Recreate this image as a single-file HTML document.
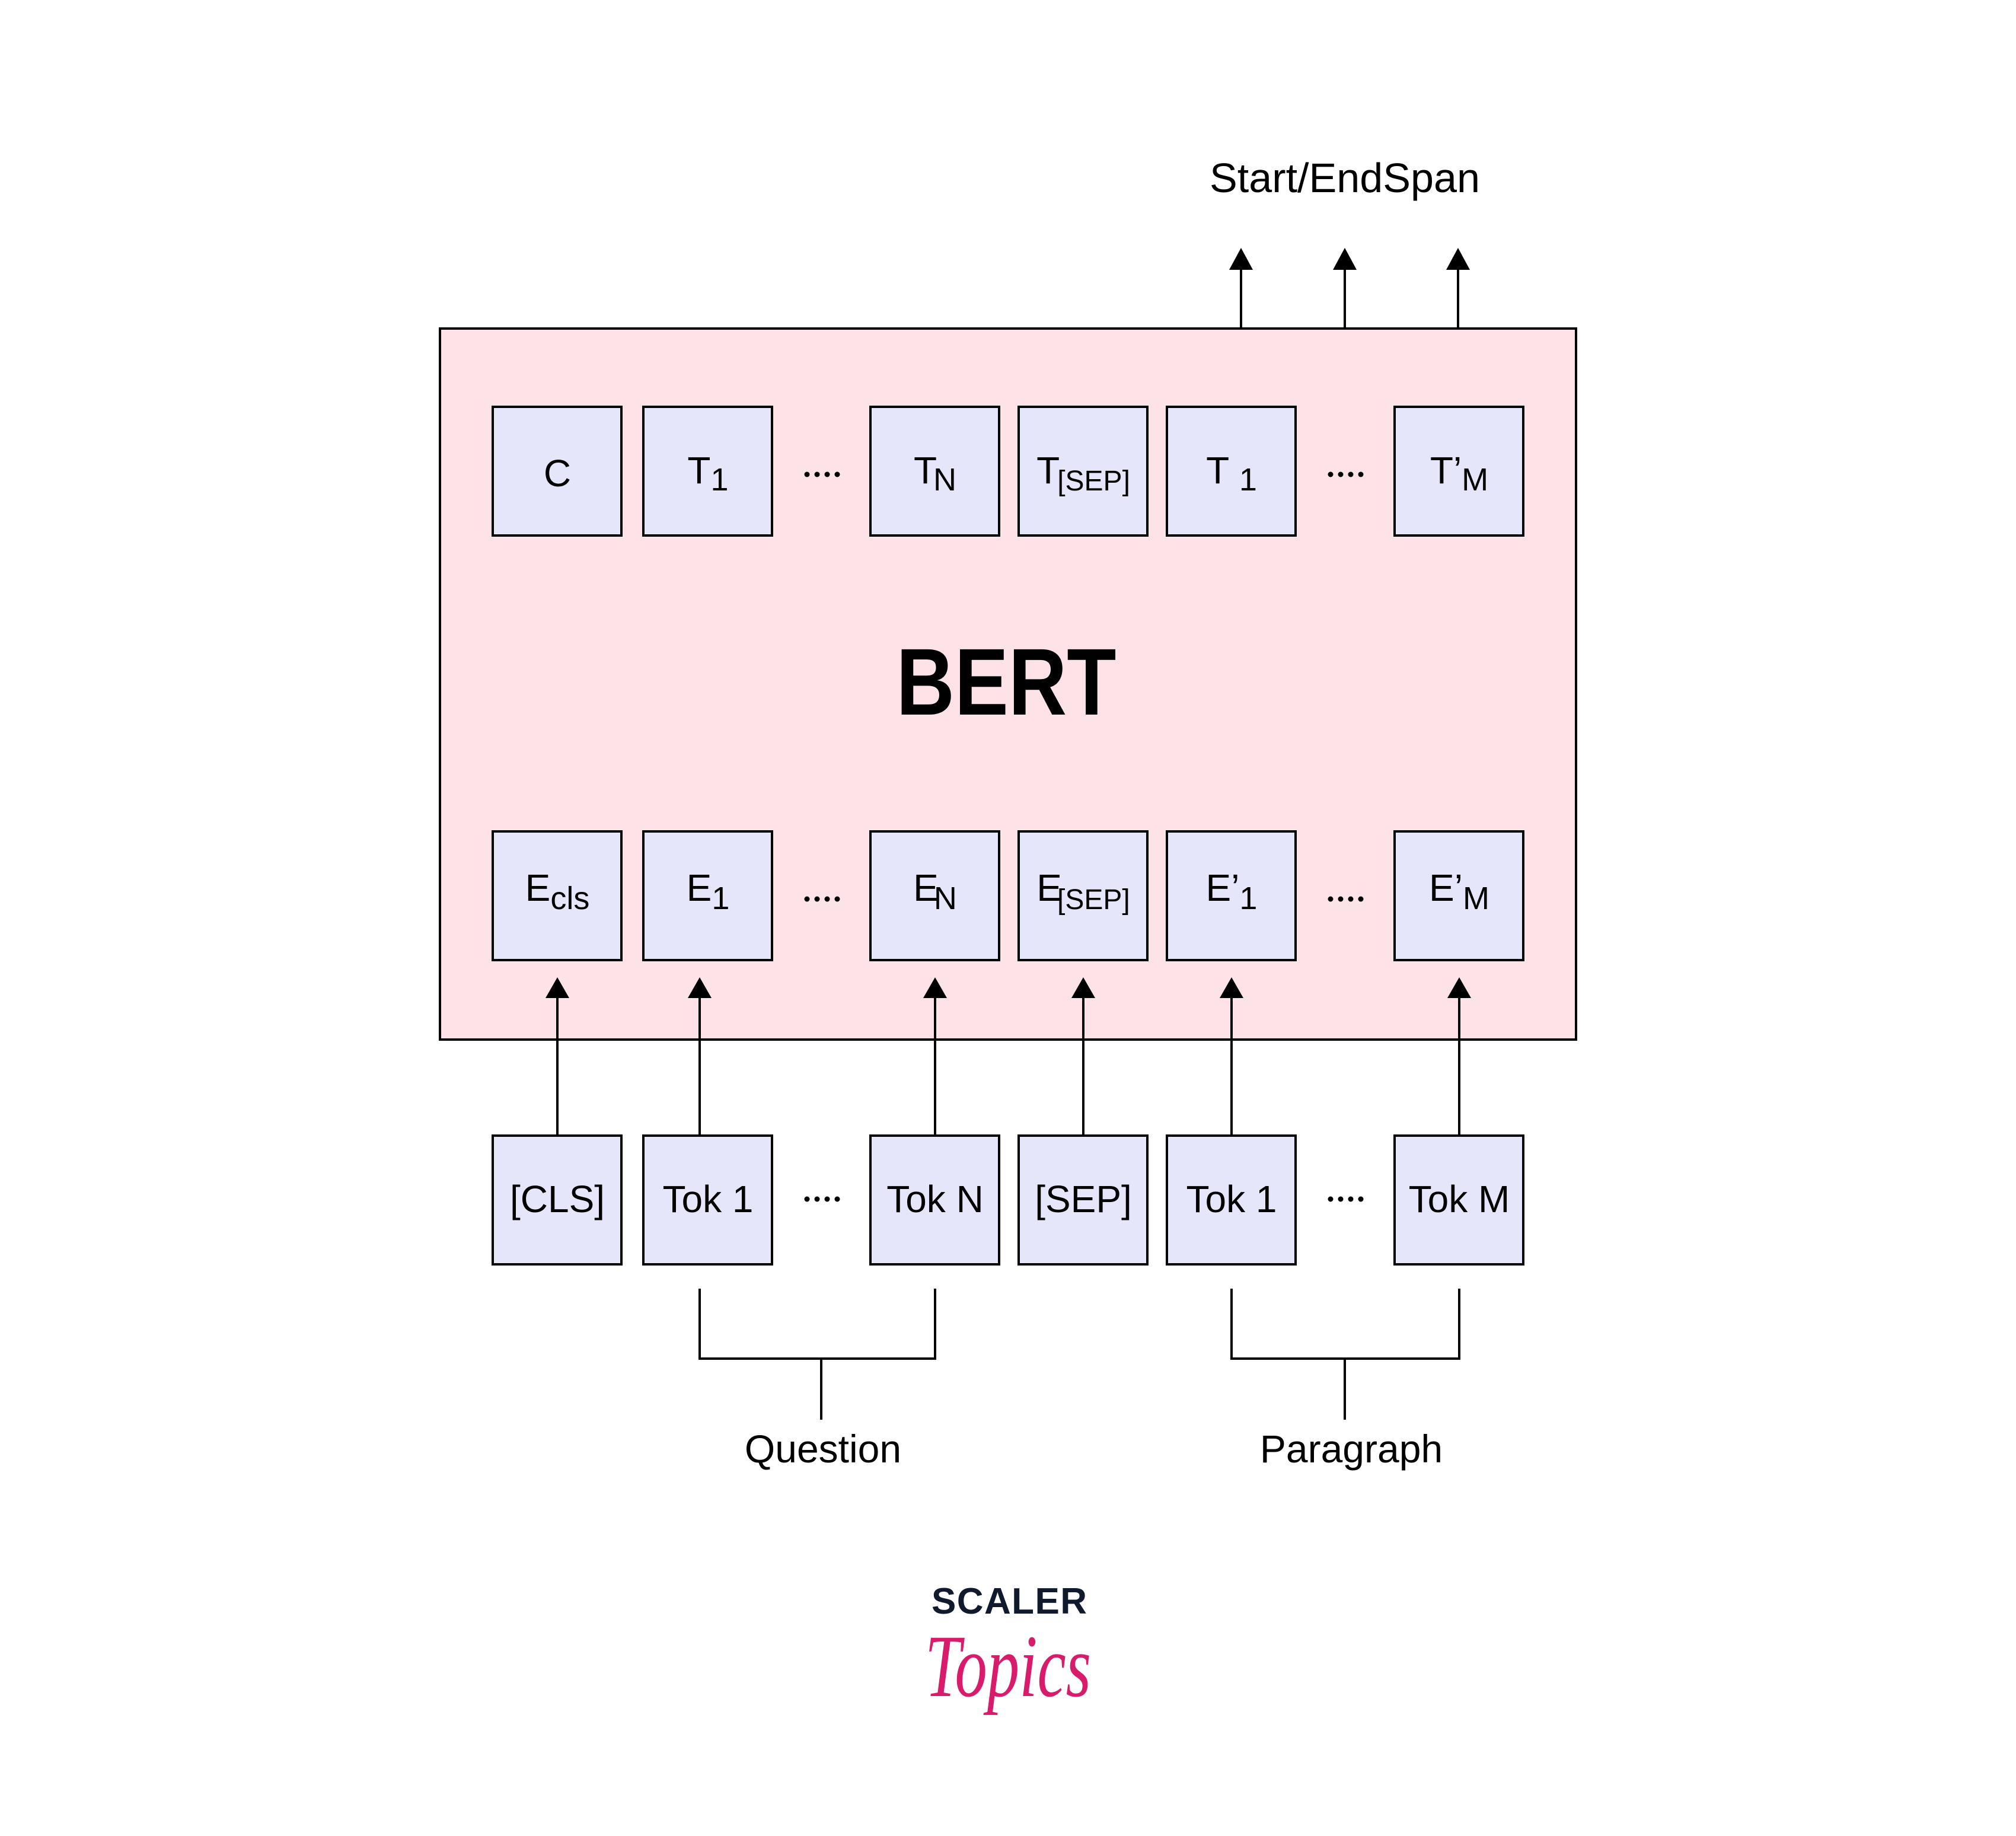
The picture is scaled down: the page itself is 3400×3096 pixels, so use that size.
<!DOCTYPE html>
<html><head><meta charset="utf-8"><style>html,body{margin:0;padding:0;background:#fff}svg{display:block}</style></head>
<body>
<svg width="3400" height="3096" viewBox="0 0 3400 3096" xmlns="http://www.w3.org/2000/svg" font-family="'Liberation Sans', sans-serif" fill="#000">
<rect width="3400" height="3096" fill="#fff"/>
<!-- top outputs -->
<text x="2268" y="324" font-size="70" text-anchor="middle" textLength="456" lengthAdjust="spacingAndGlyphs">Start/EndSpan</text>
<g stroke="#000" stroke-width="4">
<line x1="2093" y1="450" x2="2093" y2="554"/>
<line x1="2268" y1="450" x2="2268" y2="554"/>
<line x1="2459" y1="450" x2="2459" y2="554"/>
</g>
<polygon points="2093,418 2073,455 2113,455"/>
<polygon points="2268,418 2248,455 2288,455"/>
<polygon points="2459,418 2439,455 2479,455"/>
<!-- BERT box -->
<rect x="742" y="554" width="1916" height="1199" fill="#fde3e8" stroke="#000" stroke-width="4"/>
<text x="1697" y="1205" font-size="160" font-weight="bold" text-anchor="middle" textLength="371" lengthAdjust="spacingAndGlyphs">BERT</text>
<g fill="#e6e6fa" stroke="#000" stroke-width="4">
<rect x="831" y="686" width="217" height="217"/><rect x="1085" y="686" width="217" height="217"/><rect x="1468" y="686" width="217" height="217"/><rect x="1718" y="686" width="217" height="217"/><rect x="1968" y="686" width="217" height="217"/><rect x="2352" y="686" width="217" height="217"/>
<rect x="831" y="1402" width="217" height="217"/><rect x="1085" y="1402" width="217" height="217"/><rect x="1468" y="1402" width="217" height="217"/><rect x="1718" y="1402" width="217" height="217"/><rect x="1968" y="1402" width="217" height="217"/><rect x="2352" y="1402" width="217" height="217"/>
<rect x="831" y="1915" width="217" height="217"/><rect x="1085" y="1915" width="217" height="217"/><rect x="1468" y="1915" width="217" height="217"/><rect x="1718" y="1915" width="217" height="217"/><rect x="1968" y="1915" width="217" height="217"/><rect x="2352" y="1915" width="217" height="217"/>
</g>
<g font-size="64" text-anchor="middle">
<text x="940" y="820">C</text>
<text x="1194" y="815">T<tspan font-size="54" dy="12">1</tspan></text>
<text x="1577" y="815">T<tspan font-size="54" dy="12" dx="-6">N</tspan></text>
<text x="1827" y="815">T<tspan font-size="48" dy="12" dx="-4">[SEP]</tspan></text>
<text x="2077" y="815">T <tspan font-size="54" dy="12">1</tspan></text>
<text x="2461" y="815">T’<tspan font-size="54" dy="12">M</tspan></text>
<text x="940" y="1519">E<tspan font-size="54" dy="14">cls</tspan></text>
<text x="1194" y="1519">E<tspan font-size="54" dy="14">1</tspan></text>
<text x="1577" y="1519">E<tspan font-size="54" dy="14" dx="-8">N</tspan></text>
<text x="1827" y="1519">E<tspan font-size="48" dy="14" dx="-8">[SEP]</tspan></text>
<text x="2077" y="1519">E’<tspan font-size="54" dy="14">1</tspan></text>
<text x="2461" y="1519">E’<tspan font-size="54" dy="14">M</tspan></text>
<text x="940" y="2044">[CLS]</text>
<text x="1194" y="2044">Tok 1</text>
<text x="1577" y="2044">Tok N</text>
<text x="1827" y="2044">[SEP]</text>
<text x="2077" y="2044">Tok 1</text>
<text x="2461" y="2044">Tok M</text>
</g>
<!-- dots -->
<g>
<circle cx="1361" cy="800" r="4.5"/><circle cx="1378" cy="800" r="4.5"/><circle cx="1395" cy="800" r="4.5"/><circle cx="1412" cy="800" r="4.5"/>
<circle cx="2244" cy="800" r="4.5"/><circle cx="2261" cy="800" r="4.5"/><circle cx="2278" cy="800" r="4.5"/><circle cx="2295" cy="800" r="4.5"/>
<circle cx="1361" cy="1516" r="4.5"/><circle cx="1378" cy="1516" r="4.5"/><circle cx="1395" cy="1516" r="4.5"/><circle cx="1412" cy="1516" r="4.5"/>
<circle cx="2244" cy="1516" r="4.5"/><circle cx="2261" cy="1516" r="4.5"/><circle cx="2278" cy="1516" r="4.5"/><circle cx="2295" cy="1516" r="4.5"/>
<circle cx="1361" cy="2022" r="4.5"/><circle cx="1378" cy="2022" r="4.5"/><circle cx="1395" cy="2022" r="4.5"/><circle cx="1412" cy="2022" r="4.5"/>
<circle cx="2244" cy="2022" r="4.5"/><circle cx="2261" cy="2022" r="4.5"/><circle cx="2278" cy="2022" r="4.5"/><circle cx="2295" cy="2022" r="4.5"/>
</g>
<!-- input arrows -->
<g stroke="#000" stroke-width="4" fill="none">
<line x1="940" y1="1678" x2="940" y2="1915"/>
<line x1="1180" y1="1678" x2="1180" y2="1915"/>
<line x1="1577" y1="1678" x2="1577" y2="1915"/>
<line x1="1827" y1="1678" x2="1827" y2="1915"/>
<line x1="2077" y1="1678" x2="2077" y2="1915"/>
<line x1="2461" y1="1678" x2="2461" y2="1915"/>
<polyline points="1180,2173 1180,2291 1577,2291 1577,2173"/>
<line x1="1385" y1="2291" x2="1385" y2="2394"/>
<polyline points="2077,2173 2077,2291 2461,2291 2461,2173"/>
<line x1="2268" y1="2291" x2="2268" y2="2394"/>
</g>
<polygon points="940,1648 920,1683 960,1683"/>
<polygon points="1180,1648 1160,1683 1200,1683"/>
<polygon points="1577,1648 1557,1683 1597,1683"/>
<polygon points="1827,1648 1807,1683 1847,1683"/>
<polygon points="2077,1648 2057,1683 2097,1683"/>
<polygon points="2461,1648 2441,1683 2481,1683"/>
<text x="1388" y="2466" font-size="66" text-anchor="middle">Question</text>
<text x="2279" y="2466" font-size="66" text-anchor="middle">Paragraph</text>
<!-- logo -->
<text x="1702" y="2721" font-size="62" font-weight="bold" fill="#111a2d" text-anchor="middle" textLength="262" lengthAdjust="spacing">SCALER</text>
<text x="1700" y="2860" font-size="150" font-style="italic" font-family="'Liberation Serif', serif" fill="#d81b6b" text-anchor="middle" textLength="280" lengthAdjust="spacingAndGlyphs">Topics</text>
</svg>
</body></html>
